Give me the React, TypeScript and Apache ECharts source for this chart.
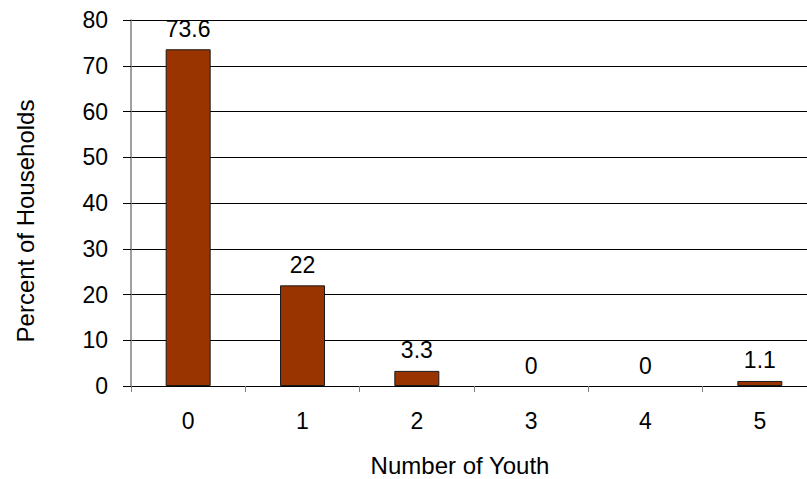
import React, { useEffect, useRef } from "react";
import * as echarts from "echarts";

const categories = ["0", "1", "2", "3", "4", "5"];
const percentValues = [73.6, 22, 3.3, 0, 0, 1.1];
const yTicks = { min: 0, max: 80, interval: 10 };
const xTitle = "Number of Youth";
const yTitle = "Percent of Households";

const FONT = "'Liberation Sans', Arial, sans-serif";

export default function App() {
  const ref = useRef<HTMLDivElement>(null);
  useEffect(() => {
    document.body.style.margin = "0";
    const chart = echarts.init(ref.current!, null, { renderer: "svg" });
    chart.setOption({
      animation: false,
      backgroundColor: "#ffffff",
      textStyle: { fontFamily: FONT },
      grid: { left: 131, top: 20, width: 686, height: 366, containLabel: false },
      xAxis: {
        type: "category",
        data: categories,
        axisLine: { show: true, lineStyle: { color: "#000000", width: 1 } },
        axisTick: { show: true, length: 6, lineStyle: { color: "#808080" } },
        axisLabel: { color: "#000", fontSize: 23, fontFamily: FONT, margin: 23 },
      },
      yAxis: {
        type: "value",
        min: yTicks.min,
        max: yTicks.max,
        interval: yTicks.interval,
        axisLine: { show: true, lineStyle: { color: "#808080", width: 1.5 } },
        axisTick: { show: true, length: 8, lineStyle: { color: "#000000" } },
        axisLabel: { color: "#000", fontSize: 23, fontFamily: FONT, margin: 23 },
        splitLine: { show: true, lineStyle: { color: "#000000", width: 1 } },
      },
      series: [
        {
          type: "bar",
          data: percentValues.map((v) =>
            v === 0
              ? { value: v, itemStyle: { borderWidth: 0, color: "rgba(0,0,0,0)" } }
              : v
          ),
          barWidth: 45,
          itemStyle: { color: "#993300", borderColor: "#1a1a1a", borderWidth: 1 },
          label: {
            show: true,
            position: "top",
            distance: 9,
            color: "#000",
            fontSize: 23,
            fontFamily: FONT,
          },
        },
      ],
      graphic: [
        {
          type: "text",
          x: 460,
          y: 465,
          style: {
            text: xTitle,
            fontSize: 24,
            fontFamily: FONT,
            fill: "#000",
            align: "center",
            verticalAlign: "middle",
          },
        },
        {
          type: "text",
          x: 25,
          y: 221,
          rotation: Math.PI / 2,
          style: {
            text: yTitle,
            fontSize: 24,
            fontFamily: FONT,
            fill: "#000",
            align: "center",
            verticalAlign: "middle",
          },
        },
      ],
    });
    return () => chart.dispose();
  }, []);
  return (
    <div style={{ width: 807, height: 479, overflow: "hidden", position: "relative" }}>
      <div ref={ref} style={{ width: 830, height: 479 }} />
    </div>
  );
}
